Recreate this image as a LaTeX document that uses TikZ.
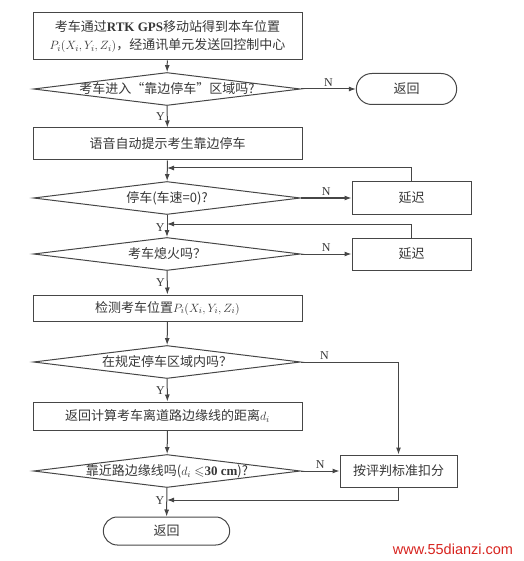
\documentclass[tikz,border=0pt]{standalone}
\usepackage{amssymb}
\usepackage{fontspec}
\setmainfont{Liberation Serif}
\setsansfont{Liberation Sans}
\newfontfamily\cjk{Noto Sans CJK SC}
\usetikzlibrary{positioning,arrows.meta,shapes.geometric,shapes.misc,calc}
\definecolor{linegray}{RGB}{70,70,70}
\definecolor{textgray}{RGB}{55,55,55}
\definecolor{wmred}{RGB}{215,35,30}
\newcommand{\ztext}[1]{\makebox[0pt]{#1}}
\tikzset{
  proc/.style={rectangle, draw=linegray, line width=1pt, minimum width=269pt,
    minimum height=32pt, align=center, text=textgray, inner sep=1pt,
    font=\cjk\fontsize{13}{18}\selectfont},
  dec/.style={diamond, aspect=8, draw=linegray, line width=1pt, minimum width=267pt,
    minimum height=33pt, inner sep=0pt, text=textgray,
    font=\cjk\fontsize{13}{15}\selectfont},
  term/.style={rounded rectangle, draw=linegray, line width=1pt, minimum height=30pt,
    text=textgray, font=\cjk\fontsize{13}{15}\selectfont},
  delaybox/.style={proc, minimum width=119pt},
  arr/.style={-{Latex[length=7pt,width=5pt]}, line width=1pt, draw=linegray},
  lbl/.style={font=\rmfamily\fontsize{12}{12}\selectfont, text=textgray, inner sep=2pt},
}

\begin{document}
\begin{tikzpicture}[x=1pt, y=-1pt]
  \useasboundingbox (0,0) rectangle (523,561);

  \node[proc, minimum height=47pt] (pos) at (167.5,36.5)
    {考车通过{\rmfamily\bfseries RTK GPS}移动站得到本车位置\\
     $P_i(X_i,Y_i,Z_i)$，经通讯单元发送回控制中心};
  \node[dec] (inzone) at (167,89) {\ztext{考车进入“靠边停车”区域吗?}};
  \node[term, minimum width=107pt, minimum height=31pt] (ret1) at (406.5,89) {返回};
  \node[proc] (voice) at (167.5,144) {语音自动提示考生靠边停车};
  \node[dec] (stop) at (167,198) {\ztext{停车(车速=0)?}};
  \node[delaybox] (wait1) at (411.5,198) {延迟};
  \node[dec] (off) at (167,254) {\ztext{考车熄火吗？}};
  \node[delaybox] (wait2) at (411.5,254) {延迟};
  \node[proc, minimum height=26pt] (detect) at (167.5,308) {检测考车位置$P_i(X_i,Y_i,Z_i)$};
  \node[dec] (area) at (167,362) {\ztext{在规定停车区域内吗？}};
  \node[proc, minimum height=28pt] (dist) at (167.5,416) {返回计算考车离道路边缘线的距离$d_i$};
  \node[dec] (near) at (167,471)
    {\ztext{靠近路边缘线吗($d_i\leqslant${\rmfamily\bfseries 30 cm})?}};
  \node[proc, minimum width=117pt] (penalty) at (398.5,471) {按评判标准扣分};
  \node[term, minimum width=133pt, minimum height=28pt] (ret2) at (166.5,531) {返回};

  \node[font=\sffamily\fontsize{14.5}{15}\selectfont, text=wmred] (wm) at (453,549) {www.55dianzi.com};

  \coordinate (join1) at (167,168);
  \coordinate (join2) at (167,224);
  \coordinate (join3) at (167,500);

  \draw[arr] (pos) -- (inzone);
  \draw[arr] (inzone) -- node[lbl, above]{N} (ret1);
  \draw[arr] (inzone) -- node[lbl, left]{Y} (voice);
  \draw[arr] (voice) -- (stop);
  \draw[arr] (stop) -- node[lbl, above]{N} (wait1);
  \draw[arr] (wait1.north) |- (join1);
  \draw[arr] (stop) -- node[lbl, left, pos=0.55]{Y} (off);
  \draw[arr] (off) -- node[lbl, above]{N} (wait2);
  \draw[arr] (wait2.north) |- (join2);
  \draw[arr] (off) -- node[lbl, left]{Y} (detect);
  \draw[arr] (detect) -- (area);
  \draw[arr] (area.east) -| node[lbl, above, pos=0.12]{N} (penalty.north);
  \draw[arr] (area) -- node[lbl, left]{Y} (dist);
  \draw[arr] (dist) -- (near);
  \draw[arr] (near) -- node[lbl, above]{N} (penalty);
  \draw[arr] (near) -- node[lbl, left, pos=0.45]{Y} (ret2);
  \draw[arr] (penalty.south) |- (join3);
\end{tikzpicture}
\end{document}
